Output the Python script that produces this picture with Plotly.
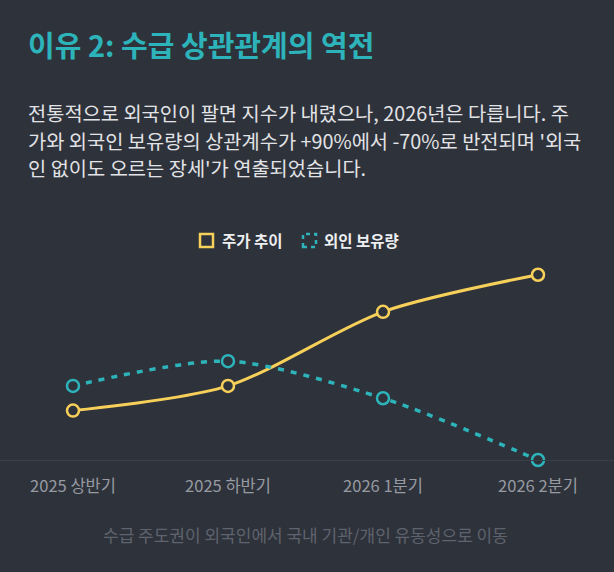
import plotly.graph_objects as go

# data (arbitrary index units, axis starts at 0)
periods = ["2025 상반기", "2025 하반기", "2026 1분기", "2026 2분기"]
stock_trend = [20, 30, 60, 75]
foreign_holding = [30, 40, 25, 0]

series_names = ["주가 추이", "외인 보유량"]

title = "이유 2: 수급 상관관계의 역전"
body_lines = [
    "전통적으로 외국인이 팔면 지수가 내렸으나, 2026년은 다릅니다. 주",
    "가와 외국인 보유량의 상관계수가 +90%에서 -70%로 반전되며 '외국",
    "인 없이도 오르는 장세'가 연출되었습니다.",
]
caption = "수급 주도권이 외국인에서 국내 기관/개인 유동성으로 이동"

BG = "#2e323b"
YELLOW = "#f7d05a"
TEAL = "#2db4ba"
FONT = "Noto Sans CJK KR"

W, H = 614, 572
TOP, BOTTOM = 260, 460  # plot area in pixels


def px(x):
    return x / W


def py(y):
    return (BOTTOM - y) / (BOTTOM - TOP)


fig = go.Figure()

fig.add_trace(go.Scatter(
    x=periods, y=stock_trend, name=series_names[0],
    mode="lines+markers",
    line=dict(color=YELLOW, width=3, shape="spline", smoothing=0.8),
    marker=dict(symbol="circle", size=12, color=BG,
                line=dict(color=YELLOW, width=2.5)),
    cliponaxis=False, hoverinfo="skip", showlegend=False,
))
fig.add_trace(go.Scatter(
    x=periods, y=foreign_holding, name=series_names[1],
    mode="lines+markers",
    line=dict(color=TEAL, width=3.5, dash="6px,7px", shape="spline", smoothing=0.8),
    marker=dict(symbol="circle", size=12, color=BG,
                line=dict(color=TEAL, width=2.5)),
    cliponaxis=False, hoverinfo="skip", showlegend=False,
))

# legend boxes (chart.js style) drawn as shapes
fig.add_shape(type="rect", xref="paper", yref="paper",
              x0=px(200), x1=px(213), y0=py(247), y1=py(234),
              line=dict(color=YELLOW, width=2.5), fillcolor=BG)
fig.add_shape(type="rect", xref="paper", yref="paper",
              x0=px(303), x1=px(316), y0=py(247), y1=py(234),
              line=dict(color=TEAL, width=2.5, dash="4px,4px"), fillcolor=BG)

annotations = [
    dict(text="<b>" + title + "</b>", x=px(26), y=py(44),
         xanchor="left", yanchor="middle",
         font=dict(size=29, color=TEAL, family=FONT)),
    dict(text="<b>" + series_names[0] + "</b>", x=px(220), y=py(240),
         xanchor="left", yanchor="middle",
         font=dict(size=15.5, color="#eceef0", family=FONT)),
    dict(text="<b>" + series_names[1] + "</b>", x=px(322), y=py(240),
         xanchor="left", yanchor="middle",
         font=dict(size=15.5, color="#eceef0", family=FONT)),
    dict(text=caption, x=px(305), y=py(534), xanchor="center", yanchor="middle",
         font=dict(size=17, color="#5f636d", family=FONT)),
]
# paragraph, one annotation per line so the lines keep a fixed 27px step
for i, line in enumerate(body_lines):
    annotations.append(dict(
        text=line, x=px(26), y=py(113 + 27 * i), xanchor="left", yanchor="middle",
        font=dict(size=19.8, color="#e2e3e6", family=FONT)))
for a in annotations:
    a.update(xref="paper", yref="paper", showarrow=False)

fig.update_layout(
    width=W, height=H,
    paper_bgcolor=BG, plot_bgcolor=BG,
    margin=dict(l=0, r=0, t=TOP, b=H - BOTTOM),
    annotations=annotations,
    font=dict(family=FONT),
    xaxis=dict(
        type="category", range=[-73 / 155, (W - 73) / 155],
        showgrid=False, zeroline=False,
        showline=True, linecolor="#3a3e48", linewidth=1,
        ticks="", ticklabelstandoff=11,
        tickfont=dict(size=16.5, color="#979aa1", family=FONT),
    ),
    yaxis=dict(range=[0, (BOTTOM - TOP) / 2.47], visible=False),
)

# drop the page's default body margin so the figure fills the window
fig.write_html("out.html", config={"displayModeBar": False},
               post_script=["document.body.style.margin='0';"])
